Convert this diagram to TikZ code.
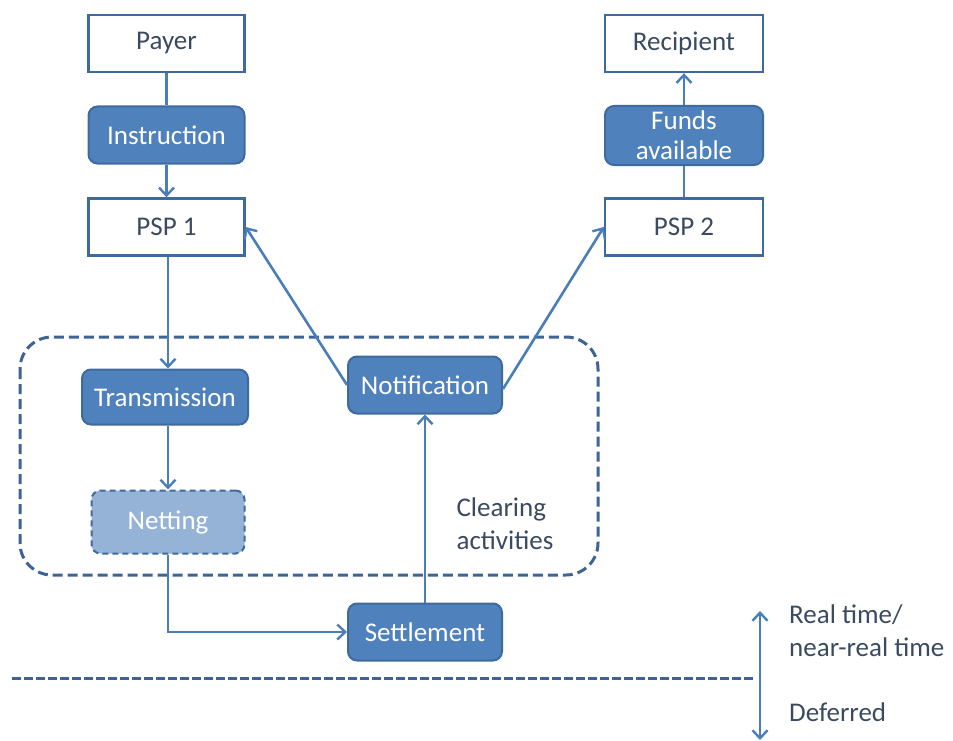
\documentclass[tikz,border=0pt]{standalone}
\usepackage{fontspec}
\setmainfont{Carlito}
\usetikzlibrary{arrows.meta}
\definecolor{boxfill}{HTML}{4F81BD}
\definecolor{boxedge}{HTML}{3F6A9E}
\definecolor{netfill}{HTML}{95B3D7}
\definecolor{linecol}{HTML}{4A7EBB}
\definecolor{txtcol}{HTML}{3B4A60}
\definecolor{dashcol}{HTML}{3F6394}
\tikzset{
  plain/.style={draw=boxedge, line width=2.4pt, fill=white, minimum width=156pt,
    minimum height=57pt, text=txtcol, font=\fontsize{27}{31}\selectfont, inner sep=0pt},
  stage/.style={draw=boxedge, line width=2pt, fill=boxfill, rounded corners=9pt,
    minimum width=156pt, minimum height=57pt, text=white,
    font=\fontsize{27}{31}\selectfont, inner sep=0pt, align=center},
  flow/.style={draw=linecol, line width=2.6pt},
  flowarrow/.style={flow, -{Straight Barb[length=8pt,width=15pt,line width=2.4pt]}},
  label/.style={text=txtcol, font=\fontsize{27}{31}\selectfont, align=left, inner sep=0pt}
}
\begin{document}
\begin{tikzpicture}[x=1pt,y=-1pt]
  \useasboundingbox (0,0) rectangle (953,741);

  % clearing activities area
  \draw[dashcol, line width=3pt, dash pattern=on 10pt off 5pt, rounded corners=32pt]
    (20,337) rectangle (598,575);

  % upper chain
  \node[plain] (payer) at (166.5,43.5) {Payer};
  \node[stage] (instr) at (166.5,135) {Instruction};
  \node[plain] (psp1) at (166.5,227) {PSP 1};
  \node[plain, minimum width=158pt] (recip) at (684,43.5) {Recipient};
  \node[stage, minimum width=158pt, minimum height=59pt] (funds) at (684,135.5) {Funds\\[-1pt]available};
  \node[plain, minimum width=158pt] (psp2) at (684,227) {PSP 2};

  % clearing and settlement
  \node[stage, minimum width=166pt, minimum height=55pt] (trans) at (165,397) {Transmission};
  \node[stage, fill=netfill, draw=boxedge, dash pattern=on 6pt off 4pt,
        minimum width=153pt, minimum height=63pt] (net) at (168,522) {Netting};
  \node[stage, minimum width=154pt] (notif) at (425,385) {Notification};
  \node[stage, minimum width=154pt] (settle) at (425,632) {Settlement};

  \node[label] (clear) at (505,524) {Clearing\\[2pt]activities};

  % connectors
  \draw[flow] (payer) -- (instr);
  \draw[flowarrow] (instr) -- (psp1);
  \draw[flowarrow] (psp1.south -| 168,0) -- (trans.north -| 168,0);
  \draw[flowarrow] (trans.south -| 168,0) -- (net);
  \draw[flowarrow] (net.south) |- (settle.west);
  \draw[flowarrow] (settle) -- (notif);
  \draw[flowarrow] (notif.west) -- (psp1.east);
  \draw[flowarrow] ([yshift=-4pt]notif.east) -- (psp2.west);
  \draw[flow] (psp2) -- (funds);
  \draw[flowarrow] (funds) -- (recip);

  % time split
  \coordinate (lineL) at (12,678);
  \coordinate (lineR) at (755,678);
  \draw[dashcol, line width=3pt, dash pattern=on 9pt off 3pt] (lineL) -- (lineR);
  \coordinate (upT) at (760,611);
  \coordinate (dnB) at (760,740);
  \draw[flow, {Straight Barb[length=8pt,width=15pt,line width=2.4pt]}-{Straight Barb[length=8pt,width=15pt,line width=2.4pt]}] (upT) -- (dnB);
  \node[label, anchor=west] (rt) at (789,631) {Real time/\\[2pt]near-real time};
  \node[label, anchor=west] (def) at (789,712) {Deferred};
\end{tikzpicture}
\end{document}
